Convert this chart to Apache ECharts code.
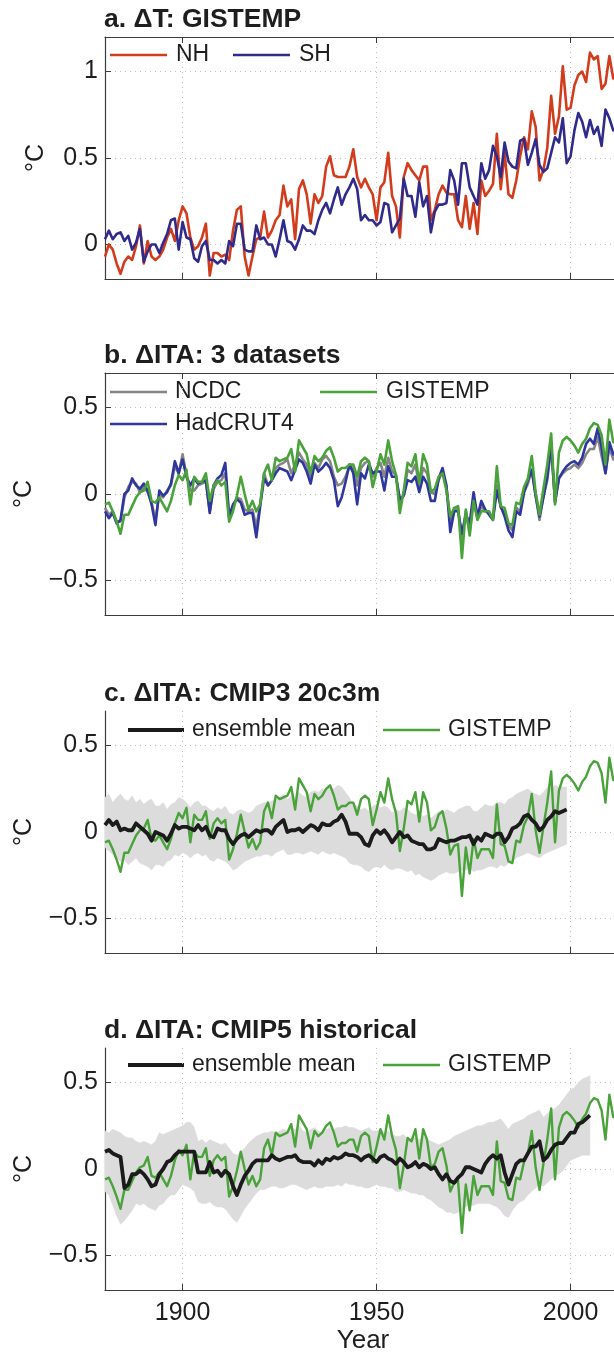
<!DOCTYPE html>
<html><head><meta charset="utf-8">
<script src="https://cdn.jsdelivr.net/npm/echarts@6/dist/echarts.min.js"></script>
<style>html,body{margin:0;padding:0;background:#fff;overflow:hidden}#c{width:614px;height:1352px}</style>
</head><body><div id="c"></div><script>
const startYear = 1880;
const xTicks = [1900, 1950, 2000];
const yTicksA = [0, 0.5, 1];
const yTicksB = [-0.5, 0, 0.5];

const nh = [-0.07,0.00,-0.03,-0.11,-0.17,-0.10,-0.07,-0.09,-0.01,0.11,
-0.11,0.02,-0.07,-0.09,-0.07,-0.03,0.04,0.09,0.02,0.14,
0.22,0.18,0.04,-0.03,-0.01,0.04,0.12,-0.18,-0.05,-0.05,
-0.07,-0.06,-0.09,0.08,0.20,0.22,-0.07,-0.18,-0.07,0.03,
0.04,0.19,0.04,0.08,0.14,0.17,0.34,0.22,0.26,0.03,
0.32,0.37,0.29,0.12,0.29,0.24,0.28,0.45,0.51,0.40,
0.39,0.39,0.39,0.45,0.55,0.39,0.33,0.38,0.33,0.29,
0.14,0.33,0.36,0.53,0.28,0.22,0.04,0.39,0.47,0.43,
0.40,0.37,0.45,0.45,0.14,0.20,0.29,0.34,0.30,0.29,
0.29,0.14,0.10,0.28,0.09,0.24,0.06,0.37,0.28,0.31,
0.35,0.64,0.32,0.53,0.29,0.27,0.37,0.51,0.62,0.55,
0.77,0.68,0.37,0.43,0.56,0.86,0.64,0.74,1.03,0.78,
0.79,0.92,0.98,1.00,0.94,1.11,1.07,1.09,0.90,0.93,
1.09,0.96,1.00];

const sh = [0.03,0.08,0.03,0.06,0.07,0.02,0.05,-0.03,0.01,0.09,
-0.10,-0.04,0.00,0.00,-0.05,0.01,0.06,0.14,0.15,-0.03,
0.13,0.04,0.03,-0.08,-0.10,-0.01,0.02,-0.09,-0.09,-0.11,
-0.09,-0.11,0.02,-0.01,0.12,0.12,-0.03,-0.04,-0.04,0.11,
0.03,0.04,0.00,0.00,-0.07,0.03,0.14,0.02,0.01,-0.03,
0.03,0.11,0.08,0.08,0.06,0.14,0.20,0.24,0.18,0.26,
0.33,0.23,0.29,0.33,0.38,0.32,0.14,0.17,0.14,0.14,
0.11,0.13,0.24,0.23,0.07,0.11,0.15,0.38,0.28,0.28,
0.16,0.36,0.22,0.28,0.07,0.19,0.23,0.23,0.24,0.43,
0.37,0.23,0.47,0.47,0.33,0.28,0.23,0.47,0.38,0.43,
0.57,0.51,0.39,0.59,0.48,0.45,0.44,0.60,0.61,0.46,
0.53,0.61,0.46,0.42,0.44,0.53,0.62,0.59,0.73,0.47,
0.51,0.66,0.76,0.71,0.62,0.72,0.64,0.68,0.57,0.78,
0.73,0.66,0.68];

const itaGistemp = [-0.06,-0.05,-0.10,-0.16,-0.23,-0.12,-0.12,-0.07,-0.02,0.01,
0.02,0.07,-0.04,-0.05,-0.02,-0.06,-0.10,-0.04,0.05,0.11,
0.08,0.14,-0.06,0.10,0.07,0.07,0.12,-0.04,0.05,0.08,
0.05,0.07,-0.16,-0.10,-0.01,0.10,0.00,-0.09,-0.04,-0.10,
-0.06,0.12,0.17,0.08,0.21,0.19,0.20,0.21,0.26,0.13,
0.31,0.27,0.23,0.12,0.22,0.19,0.21,0.25,0.27,0.21,
0.13,0.15,0.15,0.17,0.17,0.10,0.19,0.21,0.19,0.04,
0.13,0.23,0.17,0.31,0.19,0.11,-0.11,0.02,0.18,0.16,
0.23,0.06,0.23,0.17,0.01,0.03,0.10,0.12,0.02,-0.13,
-0.08,-0.07,-0.37,-0.09,-0.24,-0.04,-0.15,-0.10,-0.10,-0.10,
-0.15,0.16,-0.07,-0.08,-0.17,-0.18,-0.05,-0.06,0.04,0.09,
0.22,0.01,-0.12,0.03,0.17,0.35,-0.06,0.24,0.31,0.33,
0.31,0.28,0.24,0.29,0.32,0.38,0.41,0.40,0.34,0.17,
0.43,0.30,0.30];

const itaHadcrut4 = [-0.10,-0.14,-0.11,-0.17,-0.15,0.00,0.02,0.09,0.05,0.03,
0.06,0.02,-0.06,-0.18,0.02,-0.01,0.01,0.06,0.19,0.12,
0.20,0.10,0.05,0.09,0.06,0.07,0.08,-0.11,0.05,0.09,
0.11,0.18,-0.13,-0.06,-0.03,-0.05,-0.12,-0.11,-0.11,-0.25,
-0.07,0.09,0.05,0.08,0.12,0.15,0.14,0.13,0.08,0.14,
0.20,0.18,0.13,0.06,0.17,0.13,0.15,0.18,0.15,0.08,
-0.07,-0.02,0.07,0.17,0.12,-0.06,0.12,0.09,0.17,0.12,
0.13,0.13,0.02,0.16,0.10,0.10,-0.03,-0.01,0.08,0.07,
0.10,0.01,0.10,0.06,-0.04,-0.04,0.09,0.15,0.05,-0.22,
-0.10,-0.10,-0.23,-0.12,-0.17,0.01,-0.13,-0.04,-0.09,-0.12,
-0.15,0.02,-0.07,-0.13,-0.21,-0.25,-0.10,-0.12,0.01,0.08,
0.14,-0.01,-0.13,-0.02,0.10,0.29,-0.05,0.09,0.13,0.16,
0.18,0.19,0.17,0.21,0.29,0.32,0.29,0.38,0.27,0.12,
0.30,0.23,0.22];

const itaNcdc = [-0.08,-0.12,-0.10,-0.16,-0.16,-0.02,0.04,0.07,0.06,0.01,
0.04,0.01,-0.05,-0.15,0.00,-0.02,0.02,0.05,0.16,0.12,
0.23,0.11,0.02,0.02,0.05,0.06,0.07,-0.10,0.03,0.07,
0.08,0.12,-0.14,-0.07,-0.02,-0.03,-0.09,-0.10,-0.09,-0.19,
-0.06,0.12,0.05,0.08,0.15,0.17,0.18,0.20,0.12,0.17,
0.24,0.20,0.17,0.10,0.18,0.15,0.20,0.22,0.19,0.10,
0.05,0.06,0.10,0.16,0.15,0.05,0.15,0.18,0.19,0.10,
0.15,0.18,0.10,0.21,0.13,0.11,-0.05,0.00,0.14,0.12,
0.17,0.05,0.15,0.12,0.01,0.00,0.08,0.13,0.04,-0.15,
-0.09,-0.08,-0.26,-0.10,-0.22,-0.03,-0.14,-0.07,-0.10,-0.11,
-0.14,0.05,-0.08,-0.11,-0.18,-0.21,-0.08,-0.10,0.01,0.06,
0.14,-0.01,-0.15,-0.01,0.08,0.27,-0.04,0.09,0.12,0.14,
0.15,0.17,0.15,0.18,0.23,0.26,0.26,0.33,0.22,0.12,
0.27,0.20,0.20];

const cmip3Mean = [0.04,0.07,0.04,0.06,0.01,0.02,0.01,0.01,0.05,0.03,
0.01,-0.01,-0.05,0.00,-0.01,-0.02,-0.05,-0.01,0.04,0.02,
0.03,0.03,0.02,0.01,0.04,0.01,0.03,-0.02,-0.03,0.02,
0.01,0.01,-0.04,-0.07,-0.04,-0.02,-0.01,-0.03,-0.01,0.01,
0.00,0.01,0.01,-0.01,0.03,0.05,0.07,0.00,0.01,0.01,
0.02,0.00,0.02,0.04,0.03,0.01,0.05,0.04,0.04,0.06,
0.07,0.10,0.06,-0.01,-0.01,-0.01,-0.03,-0.07,-0.08,-0.02,
0.01,-0.01,0.01,-0.02,-0.06,-0.03,0.00,-0.03,-0.02,-0.05,
-0.06,-0.07,-0.07,-0.10,-0.10,-0.09,-0.04,-0.05,-0.06,-0.05,
-0.05,-0.04,-0.03,-0.03,-0.02,-0.07,-0.03,-0.05,-0.01,-0.02,
-0.03,-0.01,-0.01,-0.06,-0.03,0.02,0.03,0.05,0.09,0.10,
0.07,0.05,0.01,0.03,0.07,0.09,0.12,0.11,0.12,0.13];

const cmip3Upper = [0.20,0.22,0.17,0.20,0.22,0.19,0.18,0.21,0.17,0.19,
0.16,0.18,0.19,0.15,0.15,0.17,0.13,0.16,0.17,0.20,
0.19,0.17,0.14,0.17,0.18,0.15,0.15,0.13,0.12,0.14,
0.13,0.15,0.11,0.10,0.12,0.13,0.12,0.11,0.12,0.15,
0.16,0.17,0.17,0.18,0.19,0.20,0.22,0.19,0.21,0.20,
0.23,0.21,0.20,0.23,0.24,0.23,0.25,0.24,0.26,0.25,
0.27,0.26,0.23,0.20,0.16,0.15,0.13,0.14,0.12,0.15,
0.16,0.14,0.15,0.14,0.11,0.13,0.12,0.14,0.13,0.11,
0.10,0.11,0.09,0.10,0.08,0.10,0.12,0.11,0.13,0.12,
0.11,0.13,0.14,0.15,0.15,0.12,0.12,0.14,0.16,0.15,
0.15,0.17,0.17,0.16,0.19,0.20,0.22,0.23,0.24,0.25,
0.23,0.22,0.21,0.23,0.26,0.25,0.27,0.26,0.26,0.26];

const cmip3Lower = [-0.09,-0.11,-0.13,-0.15,-0.17,-0.16,-0.19,-0.17,-0.15,-0.18,
-0.19,-0.20,-0.22,-0.19,-0.19,-0.20,-0.17,-0.16,-0.13,-0.14,
-0.12,-0.13,-0.15,-0.13,-0.12,-0.14,-0.13,-0.16,-0.17,-0.15,
-0.16,-0.17,-0.19,-0.22,-0.21,-0.19,-0.17,-0.16,-0.15,-0.14,
-0.14,-0.13,-0.13,-0.14,-0.12,-0.11,-0.10,-0.13,-0.13,-0.12,
-0.12,-0.13,-0.12,-0.11,-0.12,-0.13,-0.11,-0.12,-0.13,-0.12,
-0.13,-0.14,-0.15,-0.18,-0.19,-0.19,-0.20,-0.22,-0.23,-0.21,
-0.20,-0.21,-0.19,-0.21,-0.22,-0.21,-0.21,-0.22,-0.23,-0.22,
-0.25,-0.24,-0.26,-0.27,-0.28,-0.27,-0.25,-0.24,-0.23,-0.24,
-0.24,-0.23,-0.22,-0.22,-0.21,-0.23,-0.22,-0.22,-0.21,-0.20,
-0.20,-0.21,-0.19,-0.20,-0.18,-0.17,-0.15,-0.14,-0.13,-0.12,
-0.13,-0.14,-0.15,-0.13,-0.12,-0.11,-0.10,-0.09,-0.08,-0.07];

const cmip5Mean = [0.10,0.11,0.09,0.08,0.07,-0.11,-0.09,-0.03,-0.03,-0.01,
-0.03,-0.06,-0.10,-0.09,-0.03,0.00,0.04,0.05,0.08,0.10,
0.10,0.10,0.10,0.10,-0.02,-0.02,-0.02,0.04,-0.02,-0.01,
-0.04,-0.01,-0.03,-0.10,-0.15,-0.09,-0.04,-0.01,0.03,0.05,
0.05,0.05,0.05,0.08,0.06,0.05,0.06,0.07,0.07,0.08,
0.05,0.04,0.04,0.04,0.02,0.05,0.03,0.06,0.05,0.07,
0.06,0.07,0.09,0.08,0.08,0.07,0.05,0.07,0.08,0.06,
0.04,0.07,0.08,0.06,0.05,0.03,0.06,0.04,0.01,0.02,
0.04,0.01,0.03,0.02,0.00,0.01,-0.03,-0.06,-0.03,-0.07,
-0.08,-0.05,-0.03,0.01,0.01,0.00,-0.01,-0.02,0.03,0.06,
0.08,0.06,0.08,-0.02,-0.09,-0.03,0.03,0.05,0.05,0.09,
0.13,0.13,0.16,0.05,0.07,0.11,0.14,0.15,0.15,0.18,
0.21,0.21,0.26,0.27,0.29,0.31];

const cmip5Upper = [0.22,0.21,0.23,0.22,0.21,0.19,0.18,0.18,0.16,0.15,
0.16,0.15,0.14,0.16,0.21,0.20,0.21,0.22,0.23,0.24,
0.25,0.27,0.27,0.24,0.16,0.17,0.15,0.17,0.16,0.15,
0.14,0.15,0.12,0.09,0.08,0.10,0.12,0.15,0.17,0.19,
0.20,0.21,0.21,0.22,0.21,0.22,0.23,0.22,0.24,0.23,
0.25,0.22,0.21,0.23,0.24,0.22,0.21,0.23,0.24,0.23,
0.24,0.24,0.25,0.24,0.24,0.23,0.22,0.23,0.24,0.22,
0.22,0.23,0.21,0.22,0.20,0.19,0.19,0.20,0.17,0.18,
0.18,0.17,0.19,0.17,0.16,0.15,0.14,0.15,0.16,0.17,
0.19,0.20,0.21,0.22,0.23,0.24,0.25,0.25,0.26,0.27,
0.27,0.28,0.29,0.26,0.23,0.26,0.27,0.28,0.29,0.31,
0.32,0.33,0.34,0.30,0.32,0.34,0.35,0.37,0.40,0.43,
0.46,0.47,0.50,0.52,0.53,0.54];

const cmip5Lower = [-0.13,-0.15,-0.21,-0.27,-0.32,-0.30,-0.27,-0.24,-0.20,-0.21,
-0.20,-0.22,-0.23,-0.24,-0.21,-0.20,-0.17,-0.15,-0.15,-0.12,
-0.09,-0.10,-0.11,-0.13,-0.19,-0.20,-0.20,-0.19,-0.21,-0.22,
-0.22,-0.23,-0.26,-0.29,-0.31,-0.27,-0.23,-0.20,-0.17,-0.14,
-0.12,-0.12,-0.11,-0.10,-0.10,-0.11,-0.11,-0.10,-0.09,-0.09,
-0.10,-0.11,-0.12,-0.11,-0.10,-0.11,-0.11,-0.10,-0.10,-0.10,
-0.09,-0.10,-0.08,-0.09,-0.09,-0.10,-0.10,-0.11,-0.11,-0.10,
-0.09,-0.10,-0.10,-0.11,-0.11,-0.13,-0.13,-0.12,-0.13,-0.14,
-0.14,-0.15,-0.15,-0.17,-0.18,-0.20,-0.22,-0.23,-0.25,-0.25,
-0.26,-0.25,-0.24,-0.22,-0.21,-0.21,-0.20,-0.20,-0.20,-0.20,
-0.21,-0.22,-0.24,-0.27,-0.28,-0.24,-0.21,-0.19,-0.18,-0.15,
-0.13,-0.11,-0.09,-0.10,-0.08,-0.06,-0.04,-0.03,-0.01,0.02,
0.05,0.06,0.07,0.08,0.08,0.08];

const FONT = '"Liberation Sans", Arial, Helvetica, sans-serif';
const C_NH = '#d23c1c', C_SH = '#2f2a8c', C_NCDC = '#858585', C_HAD = '#2f36a0', C_GIS = '#4aa23a', C_MEAN = '#1b1b1b', C_BAND = '#dcdcdc';
const AX = '#3c3c3c', GRIDC = '#bdbdbd', TXT = '#1e1e1e';

function pairs(arr) { return arr.map((v, i) => [startYear + i, v]); }

const panels = [
  { top: 37, height: 242 },
  { top: 373, height: 242 },
  { top: 711, height: 242 },
  { top: 1048, height: 242 }
];
const grid = panels.map(p => ({ left: 105, top: p.top, width: 516, height: p.height, containLabel: false, outerBoundsMode: 'none' }));

const splitStyle = { show: true, lineStyle: { color: GRIDC, type: [1, 4], width: 1 } };

function xAx(g, showLabels) {
  return {
    type: 'value', gridIndex: g, min: 1880, max: 2013, position: 'bottom',
    axisLine: { show: true, onZero: false, lineStyle: { color: AX, width: 1.2 } },
    axisTick: { show: true, inside: true, length: 6, customValues: xTicks, lineStyle: { color: AX, width: 1 } },
    axisLabel: { show: showLabels, customValues: xTicks, fontSize: 25, color: TXT, margin: 11, fontFamily: FONT,
      formatter: v => String(v) },
    splitLine: splitStyle,
    name: showLabels ? 'Year' : '', nameLocation: 'middle', nameGap: 38, nameMoveOverlap: false,
    nameTextStyle: { fontSize: 26, color: TXT, fontFamily: FONT }
  };
}
function xTop(g) {
  return {
    type: 'value', gridIndex: g, min: 1880, max: 2013, position: 'top',
    axisLine: { show: true, onZero: false, lineStyle: { color: AX, width: 1.2 } },
    axisTick: { show: true, inside: true, length: 6, customValues: xTicks, lineStyle: { color: AX, width: 1 } },
    axisLabel: { show: false }, splitLine: { show: false }
  };
}
function yAx(g, min, max, ticks, gap) {
  return {
    type: 'value', gridIndex: g, min: min, max: max,
    axisLine: { show: true, onZero: false, lineStyle: { color: AX, width: 1.2 } },
    axisTick: { show: true, inside: true, length: 6, customValues: ticks, lineStyle: { color: AX, width: 1 } },
    axisLabel: { customValues: ticks, fontSize: 25, color: TXT, margin: 7, fontFamily: FONT,
      formatter: v => (v < 0 ? '\u2212' + Math.abs(v) : String(v)) },
    splitLine: splitStyle,
    name: '\u00B0C', nameLocation: 'middle', nameGap: gap, nameRotate: 90, nameMoveOverlap: false,
    nameTextStyle: { fontSize: 25, color: TXT, fontFamily: FONT }
  };
}

function line(name, xi, yi, arr, color, width, z) {
  return { name: name, type: 'line', xAxisIndex: xi, yAxisIndex: yi, data: pairs(arr),
    showSymbol: false, symbol: 'none', silent: true, z: z || 3,
    lineStyle: { color: color, width: width, join: 'round' }, emphasis: { disabled: true } };
}
function band(xi, yi, upper, lower) {
  return { type: 'custom', xAxisIndex: xi, yAxisIndex: yi, silent: true, z: 1,
    data: [[startYear, 0]],
    renderItem: (params, api) => {
      const pts = [];
      for (let i = 0; i < upper.length; i++) pts.push(api.coord([startYear + i, upper[i]]));
      for (let i = lower.length - 1; i >= 0; i--) pts.push(api.coord([startYear + i, lower[i]]));
      return { type: 'polygon', shape: { points: pts }, style: { fill: C_BAND, stroke: C_BAND, lineWidth: 0.5 } };
    } };
}

function title(text, y) {
  return { type: 'text', x: 104, y: y, silent: true,
    style: { text: text, fontSize: 26.5, fontWeight: 'bold', fontFamily: FONT, fill: TXT, verticalAlign: 'middle' } };
}
function legItem(x1, x2, y, color, width, label, tx) {
  return [
    { type: 'line', silent: true, shape: { x1: x1, y1: y, x2: x2, y2: y }, style: { stroke: color, lineWidth: width } },
    { type: 'text', silent: true, x: tx, y: y, style: { text: label, fontSize: 23, fontFamily: FONT, fill: TXT, verticalAlign: 'middle' } }
  ];
}

const graphic = [
  title('a. \u0394T: GISTEMP', 20),
  title('b. \u0394ITA: 3 datasets', 356),
  title('c. \u0394ITA: CMIP3 20c3m', 694),
  title('d. \u0394ITA: CMIP5 historical', 1031),
  ...legItem(110, 167, 55, C_NH, 2.6, 'NH', 176),
  ...legItem(233, 290, 55, C_SH, 2.6, 'SH', 299),
  ...legItem(110, 167, 392, C_NCDC, 2.6, 'NCDC', 175),
  ...legItem(320, 377, 392, C_GIS, 2.6, 'GISTEMP', 386),
  ...legItem(110, 167, 424, C_HAD, 2.6, 'HadCRUT4', 175),
  ...legItem(128, 184, 730, C_MEAN, 3.8, 'ensemble mean', 192),
  ...legItem(383, 440, 730, C_GIS, 2.4, 'GISTEMP', 448),
  ...legItem(128, 184, 1065, C_MEAN, 3.8, 'ensemble mean', 192),
  ...legItem(383, 440, 1065, C_GIS, 2.4, 'GISTEMP', 448)
];

const option = {
  animation: false,
  backgroundColor: '#ffffff',
  grid: grid,
  xAxis: [xAx(0, false), xAx(1, false), xAx(2, false), xAx(3, true), xTop(0), xTop(1)],
  yAxis: [yAx(0, -0.2, 1.2, yTicksA, 56), yAx(1, -0.7, 0.7, yTicksB, 68), yAx(2, -0.7, 0.7, yTicksB, 68), yAx(3, -0.7, 0.7, yTicksB, 68)],
  series: [
    line('NH', 0, 0, nh, C_NH, 2.6),
    line('SH', 0, 0, sh, C_SH, 2.6),
    line('NCDC', 1, 1, itaNcdc, C_NCDC, 2.6),
    line('HadCRUT4', 1, 1, itaHadcrut4, C_HAD, 2.6),
    line('GISTEMP', 1, 1, itaGistemp, C_GIS, 2.6),
    band(2, 2, cmip3Upper, cmip3Lower),
    line('GISTEMP', 2, 2, itaGistemp, C_GIS, 2.4),
    line('ensemble mean', 2, 2, cmip3Mean, C_MEAN, 3.8, 4),
    band(3, 3, cmip5Upper, cmip5Lower),
    line('GISTEMP', 3, 3, itaGistemp, C_GIS, 2.4),
    line('ensemble mean', 3, 3, cmip5Mean, C_MEAN, 3.8, 4)
  ],
  graphic: graphic
};
const chart = echarts.init(document.getElementById('c'), null, { renderer: 'canvas', width: 614, height: 1352 });
chart.setOption(option);
</script></body></html>
